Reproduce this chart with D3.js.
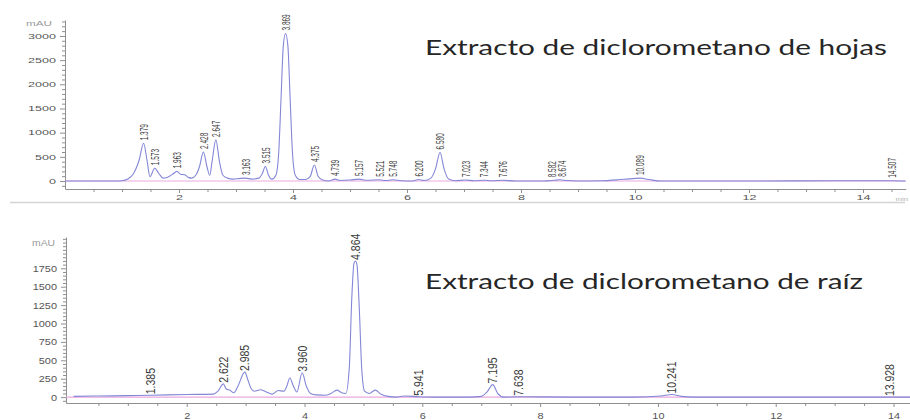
<!DOCTYPE html>
<html>
<head>
<meta charset="utf-8">
<script src="https://cdn.jsdelivr.net/npm/d3@7"></script>
<style>
  html, body { margin: 0; padding: 0; background: #fff; }
  svg { display: block; }
</style>
</head>
<body>
<div id="art"></div>
<script>
// Extracto de hojas: retention time (min) vs absorbance (mAU)
const leafTrace = [
  [0, 0], [0.9, 0], [1.0, 5], [1.1, 40], [1.2, 150], [1.3, 430], [1.379, 780], [1.44, 420],
  [1.49, 90], [1.573, 265], [1.65, 150], [1.72, 60], [1.8, 80], [1.9, 150], [1.963, 200],
  [2.03, 140], [2.1, 130], [2.17, 70], [2.22, 60], [2.3, 130], [2.36, 300], [2.428, 600],
  [2.49, 300], [2.54, 120], [2.58, 400], [2.647, 850], [2.71, 400], [2.77, 120], [2.85, 60],
  [2.95, 40], [3.05, 50], [3.163, 60], [3.28, 40], [3.4, 60], [3.46, 150], [3.515, 300],
  [3.57, 120], [3.63, 40], [3.7, 120], [3.75, 600], [3.79, 1700], [3.83, 2800], [3.869, 3050],
  [3.91, 2800], [3.95, 1700], [3.99, 600], [4.04, 120], [4.12, 30], [4.22, 30], [4.3, 90],
  [4.375, 330], [4.44, 100], [4.52, 20], [4.63, 0], [4.739, 40], [4.82, 10], [5.0, 20],
  [5.157, 40], [5.3, 15], [5.521, 25], [5.62, 10], [5.748, 25], [5.9, 5], [6.1, 0], [6.2, 30],
  [6.3, 10], [6.42, 60], [6.5, 250], [6.58, 590], [6.65, 250], [6.73, 40], [6.85, 5],
  [7.023, 20], [7.18, 5], [7.344, 15], [7.5, 5], [7.676, 15], [7.9, 0], [8.4, 0], [8.582, 15],
  [8.674, 25], [8.8, 10], [9.0, 0], [9.4, 5], [9.7, 25], [9.9, 45], [10.089, 60], [10.25, 30],
  [10.45, 0], [12, 0], [13.5, 5], [14.507, 5], [14.75, 0]
];
const leafPeaks = ["1.379", "1.573", "1.963", "2.428", "2.647", "3.163", "3.515", "3.869",
  "4.375", "4.739", "5.157", "5.521", "5.748", "6.200", "6.580", "7.023", "7.344", "7.676",
  "8.582", "8.674", "10.089", "14.507"];

// Extracto de raíz
const rootTrace = [
  [0.08, 10], [0.5, 15], [1.0, 20], [1.385, 25], [2.0, 35], [2.45, 40], [2.53, 80], [2.622, 180],
  [2.67, 110], [2.73, 95], [2.8, 60], [2.87, 150], [2.985, 340], [3.04, 230], [3.09, 120],
  [3.15, 80], [3.25, 100], [3.35, 70], [3.45, 40], [3.55, 90], [3.65, 80], [3.7, 150],
  [3.75, 260], [3.81, 150], [3.87, 70], [3.96, 330], [4.03, 150], [4.1, 50], [4.2, 30],
  [4.35, 25], [4.45, 50], [4.55, 95], [4.63, 60], [4.7, 50], [4.76, 400], [4.8, 1300],
  [4.84, 1820], [4.864, 1850], [4.89, 1800], [4.93, 1200], [4.97, 400], [5.02, 80], [5.1, 50],
  [5.2, 95], [5.3, 40], [5.42, 10], [5.55, 0], [5.7, 15], [5.941, 5], [6.2, 0], [6.8, 0],
  [7.0, 10], [7.1, 70], [7.195, 170], [7.28, 50], [7.38, 0], [7.638, 5], [8.5, 0], [9.6, 0],
  [10.05, 15], [10.241, 35], [10.4, 10], [10.6, 0], [13.928, 0], [14.3, 0]
];
const rootPeaks = ["1.385", "2.622", "2.985", "3.960", "4.864", "5.941", "7.195", "7.638",
  "10.241", "13.928"];

const leafYTicks = [0, 500, 1000, 1500, 2000, 2500, 3000];
const rootYTicks = [0, 250, 500, 750, 1000, 1250, 1500, 1750];
const xTicks = [2, 4, 6, 8, 10, 12, 14];

const titles = ["Extracto de diclorometano de hojas", "Extracto de diclorometano de raíz"];

const config = {
  width: 910,
  height: 420,
  traceColour: "#8487d6",
  baseColour: "#eaa9de",
  axisColour: "#8f8f8f",
  textColour: "#555"
};

const panels = [
  {
    trace: leafTrace, peaks: leafPeaks, yTicks: leafYTicks, yMinor: 100, title: titles[0],
    xDomain: [0, 14.75], xRange: [65, 905.75], yDomain: [-165, 3330], yRange: [189, 20],
    stretch: 1.8, tickFont: 7, peakFont: 6.5, peakGap: 3, labelSep: 10, titleY: 55, titleW: 462,
    mauX: 52, mauY: 26
  },
  {
    trace: rootTrace, peaks: rootPeaks, yTicks: rootYTicks, yMinor: 50, title: titles[1],
    xDomain: [-0.05, 14.28], xRange: [66, 910], yDomain: [-80, 2175], yRange: [403, 237],
    stretch: 1.15, tickFont: 9.5, peakFont: 10.5, peakGap: 1, labelSep: 12, titleY: 289, titleW: 438,
    mauX: 55, mauY: 246
  }
];

function art() {
  const svg = d3.select("#art")
    .append("svg")
    .attr("width", config.width)
    .attr("height", config.height)
    .style("font-family", "'Liberation Sans', Arial, sans-serif");

  // faint separator under the first chromatogram
  svg.append("line")
    .attr("x1", 10).attr("x2", 905).attr("y1", 202.5).attr("y2", 202.5)
    .attr("stroke", "#d4d4d4").attr("stroke-width", 1.5);

  panels.forEach((p, i) => {
    const g = svg.append("g");
    const x = d3.scaleLinear().domain(p.xDomain).range(p.xRange);
    const y = d3.scaleLinear().domain(p.yDomain).range(p.yRange);
    const x0 = p.xRange[0];
    const yBottom = p.yRange[0];

    const clipId = "clip" + i;
    g.append("clipPath").attr("id", clipId)
      .append("rect")
      .attr("x", x0).attr("y", p.yRange[1] - 4)
      .attr("width", p.xRange[1] - x0).attr("height", yBottom - p.yRange[1] + 4);

    // minor y ticks
    const yMinor = d3.range(p.yDomain[0] < 0 ? -p.yMinor : 0, p.yDomain[1], p.yMinor)
      .filter(v => v > p.yDomain[0] && !p.yTicks.includes(v));
    g.append("g")
      .attr("transform", `translate(${x0},0)`)
      .call(d3.axisLeft(y).tickValues(yMinor).tickSize(3).tickFormat(""))
      .call(a => a.select(".domain").remove());

    // y axis
    const yAxis = g.append("g")
      .attr("transform", `translate(${x0},0)`)
      .call(d3.axisLeft(y).tickValues(p.yTicks).tickSize(5).tickSizeOuter(0)
        .tickFormat(d3.format("d")));
    yAxis.selectAll("text")
      .attr("x", 0)
      .attr("transform", `translate(-9,0) scale(${p.stretch},1)`)
      .style("font-size", p.tickFont + "px");

    // minor x ticks every half minute
    const xMinor = d3.range(0.5, p.xDomain[1], 0.5).filter(v => v % 2 !== 0);
    g.append("g")
      .attr("transform", `translate(0,${yBottom})`)
      .call(d3.axisBottom(x).tickValues(xMinor).tickSize(3).tickFormat(""))
      .call(a => a.select(".domain").remove());

    // x axis
    const xAxis = g.append("g")
      .attr("transform", `translate(0,${yBottom})`)
      .call(d3.axisBottom(x).tickValues(xTicks).tickSize(4).tickSizeOuter(0));
    xAxis.selectAll("text")
      .attr("transform", `scale(${p.stretch},1)`)
      .attr("y", i === 0 ? 6 : 9)
      .style("font-size", p.tickFont + "px");

    g.selectAll(".tick line, .domain").attr("stroke", config.axisColour);
    g.selectAll(".tick text").attr("fill", config.textColour);

    // unit label
    g.append("text")
      .attr("transform", `translate(${p.mauX},${p.mauY}) scale(${p.stretch},1)`)
      .attr("text-anchor", "end")
      .attr("fill", "#9a9a9a")
      .style("font-size", (p.tickFont - 0.5) + "px")
      .text("mAU");

    if (i === 0) {
      g.append("text")
        .attr("transform", `translate(908,${yBottom + 12}) scale(1.3,1)`)
        .attr("text-anchor", "end")
        .attr("fill", "#b0b0b0")
        .style("font-size", "6px")
        .text("min");
    }

    // zero baseline
    g.append("line")
      .attr("x1", x0).attr("x2", p.xRange[1])
      .attr("y1", y(0)).attr("y2", y(0))
      .attr("stroke", config.baseColour).attr("stroke-width", 1.1);

    // chromatogram
    const line = d3.line()
      .x(d => x(d[0]))
      .y(d => y(d[1]))
      .curve(d3.curveMonotoneX);
    g.append("path")
      .datum(p.trace)
      .attr("clip-path", `url(#${clipId})`)
      .attr("fill", "none")
      .attr("stroke", config.traceColour)
      .attr("stroke-width", 1.1)
      .attr("d", line);

    // peak labels, rotated, sitting on top of each peak; neighbours pushed apart
    const nearest = t => p.trace.reduce((a, b) => Math.abs(b[0] - t) < Math.abs(a[0] - t) ? b : a);
    const labels = p.peaks.map(d => ({ text: d, lx: x(+d), ly: y(nearest(+d)[1]) - p.peakGap }));
    for (let k = 1; k < labels.length; k++) {
      const gap = labels[k].lx - labels[k - 1].lx;
      if (gap < p.labelSep) {
        const push = (p.labelSep - gap) / 2;
        labels[k - 1].lx -= push;
        labels[k].lx += push;
      }
    }
    g.selectAll(".peak")
      .data(labels)
      .enter()
      .append("text")
      .attr("class", "peak")
      .attr("transform", d => `translate(${d.lx},${d.ly}) scale(${p.stretch},1) rotate(-90)`)
      .attr("dy", "0.36em")
      .attr("fill", "#3a3a3a")
      .style("font-size", p.peakFont + "px")
      .text(d => d.text);

    // title
    g.append("text")
      .attr("x", 425)
      .attr("y", p.titleY)
      .attr("textLength", p.titleW)
      .attr("lengthAdjust", "spacingAndGlyphs")
      .attr("fill", "#262626")
      .style("font-family", "Lato, 'Open Sans', sans-serif")
      .style("font-size", "21px")
      .text(p.title);
  });
}

window.onload = function () {
  art();
};
</script>
</body>
</html>
